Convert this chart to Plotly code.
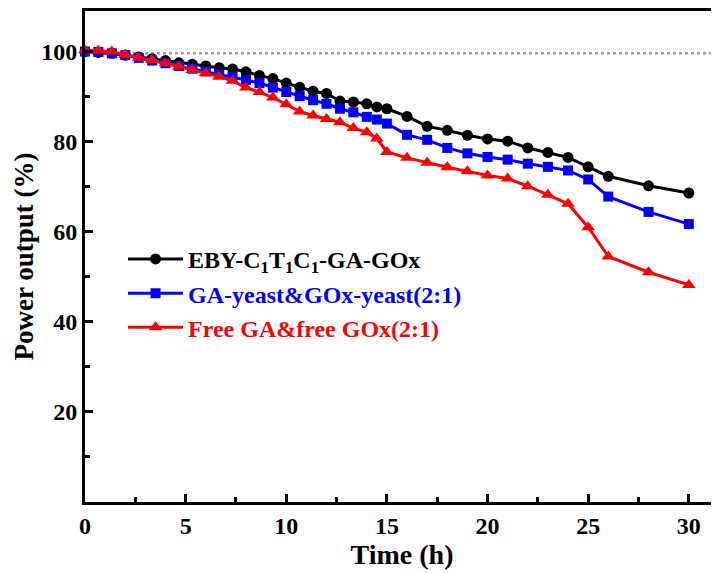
import plotly.graph_objects as go

# ---- data ----
time_h = [0, 0.667, 1.333, 2, 2.667, 3.333, 4, 4.667, 5.333, 6, 6.667, 7.333, 8,
          8.667, 9.333, 10, 10.667, 11.333, 12, 12.667, 13.333, 14, 14.5, 15,
          16, 17, 18, 19, 20, 21, 22, 23, 24, 25, 26, 28, 30]

eby = [100, 99.8, 99.6, 99.2, 98.8, 98.4, 98.0, 97.5, 97.2, 96.8, 96.4, 96.1, 95.5,
       94.7, 94.0, 93.0, 92.1, 91.2, 90.7, 89.0, 88.8, 88.4, 87.7, 87.3,
       85.6, 83.4, 82.5, 81.4, 80.6, 80.1, 78.6, 77.6, 76.5, 74.4, 72.3, 70.2, 68.6]

ga_yeast = [100, 99.9, 99.6, 99.2, 98.6, 98.0, 97.4, 96.8, 96.2, 95.6, 95.0, 94.4, 93.7,
            93.0, 92.0, 91.0, 90.1, 89.2, 88.4, 87.3, 86.5, 85.5, 84.9, 84.0,
            81.5, 80.4, 78.6, 77.4, 76.6, 76.0, 75.1, 74.4, 73.6, 71.6, 67.8, 64.4, 61.7]

free_enz = [100.3, 100.2, 100.0, 99.3, 98.6, 98.1, 97.4, 96.7, 95.9, 95.2, 94.4, 93.5, 92.0,
            91.0, 89.8, 88.3, 86.7, 85.8, 85.0, 84.3, 83.0, 82.1, 80.7, 77.7,
            76.4, 75.3, 74.3, 73.4, 72.5, 71.8, 70.1, 68.2, 66.2, 61.0, 54.5, 51.0, 48.2]

series_names = [
    "EBY-C<sub>1</sub>T<sub>1</sub>C<sub>1</sub>-GA-GOx",
    "GA-yeast&GOx-yeast(2:1)",
    "Free GA&free GOx(2:1)",
]
ref_level = 99.6
x_ticks = [0, 5, 10, 15, 20, 25, 30]
y_ticks = [20, 40, 60, 80, 100]

FONT = "Liberation Serif"
colors = ["black", "#0000ff", "#ff0000"]
symbols = ["circle", "square", "triangle-up"]
sizes = [11, 10, 12]

fig = go.Figure()
for name, ys, c, s, sz in zip(series_names, [eby, ga_yeast, free_enz], colors, symbols, sizes):
    fig.add_trace(go.Scatter(
        x=time_h, y=ys, mode="lines+markers",
        name=f'<span style="color:{c}">{name}</span>',
        line=dict(color=c, width=3),
        marker=dict(symbol=s, size=sz, color=c),
        cliponaxis=False,
    ))

fig.add_shape(type="line", xref="paper", x0=0, x1=1, yref="y", y0=ref_level, y1=ref_level,
              line=dict(color="#a0a0a0", width=2.5, dash="dot"), layer="below")

fig.update_layout(
    width=711, height=565,
    margin=dict(l=77, r=0, t=3, b=71),
    paper_bgcolor="white", plot_bgcolor="white",
    font=dict(family=FONT, size=24, color="black", weight="bold"),
    showlegend=True,
    legend=dict(x=0.06, y=0.54, xanchor="left", yanchor="top",
                bgcolor="rgba(0,0,0,0)", font=dict(family=FONT, size=24, weight="bold"),
                tracegroupgap=0, itemwidth=55),
    xaxis=dict(range=[0, 31.5], tickvals=x_ticks, ticks="inside", ticklen=8, tickwidth=2.5,
               tickcolor="black", showline=True, linewidth=3, linecolor="black", mirror=True,
               showgrid=False, zeroline=False,
               minor=dict(dtick=2.5, tick0=0, ticks="inside", ticklen=5, tickwidth=2.5, tickcolor="black"),
               title=dict(text="Time (h)", font=dict(family=FONT, size=28, weight="bold"), standoff=4),
               tickfont=dict(family=FONT, size=24, weight="bold")),
    yaxis=dict(range=[0, 109], tickvals=y_ticks, ticks="inside", ticklen=8, tickwidth=2.5,
               tickcolor="black", showline=True, linewidth=3, linecolor="black", mirror=False,
               showgrid=False, zeroline=False,
               minor=dict(dtick=10, tick0=0, ticks="inside", ticklen=5, tickwidth=2.5, tickcolor="black"),
               title=dict(text="Power output (%)", font=dict(family=FONT, size=27, weight="bold"), standoff=0),
               tickfont=dict(family=FONT, size=24, weight="bold")),
)

fig.write_html("out.html")
